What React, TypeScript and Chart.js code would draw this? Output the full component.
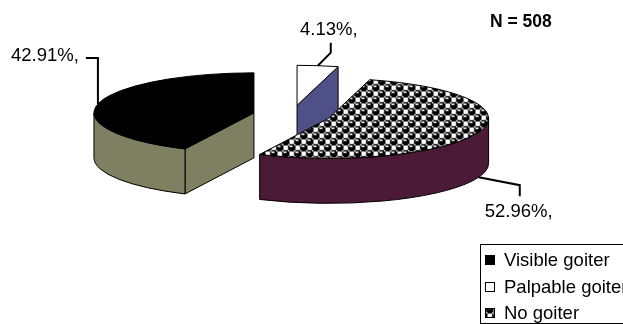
import { useEffect, useRef } from 'react';
import { Chart, registerables } from 'chart.js';

Chart.register(...registerables);

// Goiter status of the surveyed children (percent of N)
const categories = ['Visible goiter', 'Palpable goiter', 'No goiter'];
const percentages = [42.91, 4.13, 52.96];
const sampleSize = 508;

// Face colours: top faces and the extruded side walls
const topColors: (string | null)[] = ['#000000', '#ffffff', null]; // null -> sphere pattern
const sideColors = ['#7f7f62', '#505089', '#4b1a36'];

// 3D look of the pie
const TILT = 0.25;
const DEPTH = 45;
const EXPLODE = 39;
const FONT = '"Liberation Sans", Arial, sans-serif';
const TEXT_SIZE = 18.5;

// Leader-line bends relative to the slice anchor, and label placement relative to the last bend
const leaderBends = [
  [[0, -46], [-12, -46]],
  [[13, -13], [13, -23]],
  [[41, 8], [41, 19]],
];
const labelPlacement: { dx: number; dy: number; align: CanvasTextAlign; base: CanvasTextBaseline }[] = [
  { dx: -7, dy: -2, align: 'right', base: 'middle' },
  { dx: -2, dy: -8, align: 'center', base: 'alphabetic' },
  { dx: -35, dy: 21, align: 'left', base: 'alphabetic' },
];

// 8x8 "sphere" hatch, MSB = leftmost pixel, set bit = black
const sphereBits = [0x77, 0x98, 0xf8, 0xf8, 0x77, 0x89, 0x8f, 0x8f];
const PATTERN_SCALE = 1.5;

function spherePattern(ctx: CanvasRenderingContext2D): CanvasPattern | string {
  const tile = document.createElement('canvas');
  tile.width = 8;
  tile.height = 8;
  const t = tile.getContext('2d');
  if (!t) return '#808080';
  t.fillStyle = '#ffffff';
  t.fillRect(0, 0, 8, 8);
  t.fillStyle = '#000000';
  sphereBits.forEach((row, y) => {
    for (let x = 0; x < 8; x++) {
      if (row & (0x80 >> x)) t.fillRect(x, y, 1, 1);
    }
  });
  const pattern = ctx.createPattern(tile, 'repeat');
  if (!pattern) return '#808080';
  if (typeof pattern.setTransform === 'function') {
    pattern.setTransform(new DOMMatrix().scale(PATTERN_SCALE));
  }
  return pattern;
}

type Slice = {
  index: number;
  cx: number;
  cy: number;
  rx: number;
  ry: number;
  start: number;
  end: number;
  mid: number;
  top: any;
};

function buildSlices(chart: Chart): Slice[] {
  const meta = chart.getDatasetMeta(0);
  return meta.data.map((arc: any, index: number) => {
    const p = arc.getProps(['x', 'y', 'startAngle', 'endAngle', 'outerRadius'], true);
    const off = arc.options.offset || 0;
    const mid = (p.startAngle + p.endAngle) / 2;
    return {
      index,
      cx: p.x + Math.cos(mid) * off,
      cy: p.y + Math.sin(mid) * off * TILT,
      rx: p.outerRadius,
      ry: p.outerRadius * TILT,
      start: p.startAngle,
      end: p.endAngle,
      mid,
      top: arc.options.backgroundColor,
    };
  });
}

function drawSlice(ctx: CanvasRenderingContext2D, s: Slice, side: string) {
  const { cx, cy, rx, ry, start, end } = s;
  const rim = (a: number): [number, number] => [cx + rx * Math.cos(a), cy + ry * Math.sin(a)];
  ctx.lineWidth = 1;
  ctx.strokeStyle = '#000000';
  ctx.lineJoin = 'round';

  // radial cut faces that look towards the viewer
  const face = (a: number) => {
    const [px, py] = rim(a);
    ctx.beginPath();
    ctx.moveTo(cx, cy);
    ctx.lineTo(px, py);
    ctx.lineTo(px, py + DEPTH);
    ctx.lineTo(cx, cy + DEPTH);
    ctx.closePath();
    ctx.fillStyle = side;
    ctx.fill();
    ctx.stroke();
  };
  if (Math.cos(start) < -1e-6) face(start);
  if (Math.cos(end) > 1e-6) face(end);

  // curved outer wall on the front half of the ellipse
  for (let k = -2; k <= 2; k++) {
    const lo = Math.max(start, k * 2 * Math.PI);
    const hi = Math.min(end, k * 2 * Math.PI + Math.PI);
    if (hi - lo > 1e-6) {
      ctx.beginPath();
      ctx.ellipse(cx, cy, rx, ry, 0, lo, hi, false);
      ctx.ellipse(cx, cy + DEPTH, rx, ry, 0, hi, lo, true);
      ctx.closePath();
      ctx.fillStyle = side;
      ctx.fill();
      ctx.stroke();
    }
  }

  // top face
  ctx.beginPath();
  ctx.moveTo(cx, cy);
  ctx.ellipse(cx, cy, rx, ry, 0, start, end, false);
  ctx.closePath();
  ctx.fillStyle = s.top;
  ctx.fill();
  ctx.stroke();
}

const pie3d = {
  id: 'pie3d',
  beforeDatasetsDraw(chart: Chart) {
    const ctx = chart.ctx;
    const slices = buildSlices(chart).sort((a, b) => a.cy - b.cy);
    ctx.save();
    slices.forEach((s) => drawSlice(ctx, s, sideColors[s.index]));
    ctx.restore();
    return false;
  },
  afterDraw(chart: Chart) {
    const ctx = chart.ctx;
    const values = chart.data.datasets[0].data as number[];
    const colors = chart.data.datasets[0].backgroundColor as any[];
    const slices = buildSlices(chart);
    ctx.save();

    // leader lines and value labels
    slices.forEach((s) => {
      const sin = Math.sin(s.mid);
      const ax = s.cx + s.rx * Math.cos(s.mid);
      const ay = s.cy + s.ry * sin + (sin > 0 ? DEPTH : 0);
      const bends = leaderBends[s.index];
      ctx.beginPath();
      ctx.moveTo(ax, ay);
      bends.forEach(([dx, dy]) => ctx.lineTo(ax + dx, ay + dy));
      ctx.lineWidth = 2;
      ctx.strokeStyle = '#000000';
      ctx.lineJoin = 'miter';
      ctx.stroke();
      const [lx, ly] = bends[bends.length - 1];
      const place = labelPlacement[s.index];
      ctx.font = `${TEXT_SIZE}px ${FONT}`;
      ctx.fillStyle = '#000000';
      ctx.textAlign = place.align;
      ctx.textBaseline = place.base;
      ctx.fillText(`${values[s.index].toFixed(2)}%,`, ax + lx + place.dx, ay + ly + place.dy);
    });

    // sample size
    ctx.font = `bold 17.5px ${FONT}`;
    ctx.textAlign = 'left';
    ctx.textBaseline = 'alphabetic';
    ctx.fillText(`N = ${sampleSize}`, 490, 27);

    // legend box
    ctx.lineWidth = 1;
    ctx.strokeStyle = '#000000';
    ctx.strokeRect(480.5, 244.5, 170, 79);
    const labels = chart.data.labels as string[];
    labels.forEach((label, i) => {
      const y = 260 + i * 26.5;
      ctx.fillStyle = colors[i];
      ctx.fillRect(485, Math.round(y - 5), 10, 10);
      ctx.strokeRect(485.5, Math.round(y - 5) + 0.5, 9, 9);
      ctx.fillStyle = '#000000';
      ctx.font = `${TEXT_SIZE}px ${FONT}`;
      ctx.textAlign = 'left';
      ctx.textBaseline = 'middle';
      ctx.fillText(label, 504, y + 1);
    });
    ctx.restore();
  },
};

export default function App() {
  const canvasRef = useRef<HTMLCanvasElement | null>(null);

  useEffect(() => {
    document.body.style.margin = '0';
    const canvas = canvasRef.current;
    if (!canvas) return;
    const ctx = canvas.getContext('2d');
    if (!ctx) return;
    const pattern = spherePattern(ctx);
    const fills = topColors.map((c) => c ?? pattern);
    const total = percentages.reduce((a, b) => a + b, 0);

    const chart = new Chart(canvas, {
      type: 'pie',
      data: {
        labels: categories,
        datasets: [
          {
            data: percentages,
            backgroundColor: fills as any,
            borderColor: '#000000',
            borderWidth: 1,
            offset: EXPLODE,
          },
        ],
      },
      options: {
        responsive: false,
        animation: false,
        events: [],
        rotation: (-360 * percentages[0]) / total,
        radius: 160,
        layout: { padding: { left: 0, right: 39, top: 0, bottom: 94 } },
        plugins: {
          legend: { display: false },
          tooltip: { enabled: false },
        },
      } as any,
      plugins: [pie3d as any],
    });
    return () => chart.destroy();
  }, []);

  return (
    <div style={{ width: 623, height: 324, background: '#ffffff' }}>
      <canvas ref={canvasRef} width={623} height={324} style={{ display: 'block' }} />
    </div>
  );
}
